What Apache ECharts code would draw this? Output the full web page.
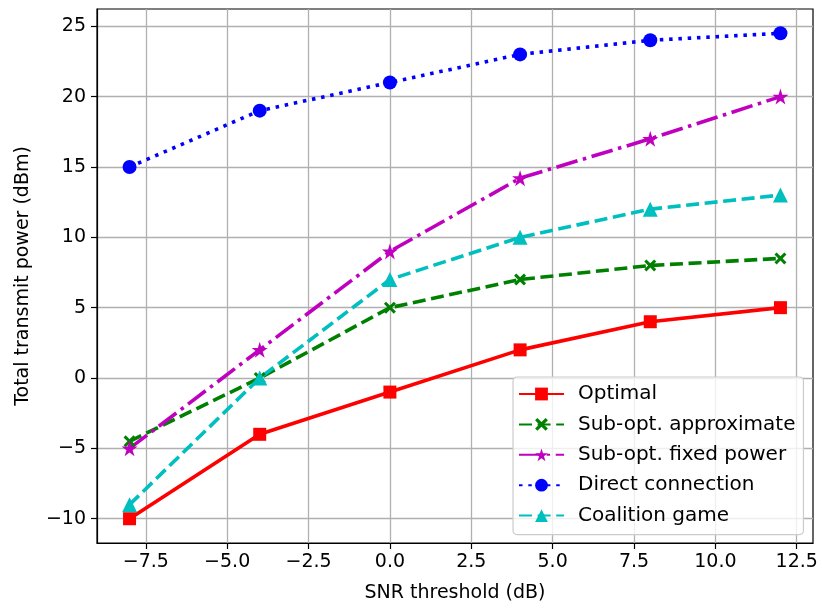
<!DOCTYPE html>
<html>
<head>
<meta charset="utf-8">
<script src="https://cdn.jsdelivr.net/npm/echarts@6/dist/echarts.min.js"></script>
<style>html,body{margin:0;padding:0;background:#fff}#c{width:822px;height:610px}</style>
</head>
<body>
<div id="c"></div>
<script>
const snr = [-8, -4, 0, 4, 8, 12];
const optimal = [-10, -4, -1, 2, 4, 5];
const subApprox = [-4.5, 0, 5, 7, 8, 8.5];
const subFixed = [-5, 2, 9, 14.2, 17, 20];
const direct = [15, 19, 21, 23, 24, 24.5];
const coalition = [-9, 0, 7, 10, 12, 13];
const xTicks = [-7.5, -5, -2.5, 0, 2.5, 5, 7.5, 10, 12.5];
const yTicks = [-10, -5, 0, 5, 10, 15, 20, 25];

const FONT = 'DejaVu Sans';
const STAR = 'path://M50,0 L61.2,34.5 L97.6,34.5 L68.2,55.9 L79.4,90.5 L50,69.1 L20.6,90.5 L31.8,55.9 L2.4,34.5 L38.8,34.5 Z';
const XMARK = 'path://M0,18 L18,0 L50,32 L82,0 L100,18 L68,50 L100,82 L82,100 L50,68 L18,100 L0,82 L32,50 Z';

function pairs(ys){ return snr.map((x,i)=>[x, ys[i]]); }
function fmtX(v){ const s = Math.abs(v).toFixed(1); return v < 0 ? '\u2212' + s : s; }
function fmtY(v){ return v < 0 ? '\u2212' + Math.abs(v) : String(v); }

const chart = echarts.init(document.getElementById('c'), null, {renderer:'canvas'});
const LW = 3.6;
function mk(name, ys, color, dash, symbol, size){
  return {
    name, type:'line', data: pairs(ys), symbol, symbolSize: size,
    lineStyle:{color, width: LW, type: dash, cap:'butt'},
    itemStyle:{color, borderWidth:0},
    emphasis:{disabled:true}
  };
}
chart.setOption({
  animation:false,
  backgroundColor:'#fff',
  textStyle:{fontFamily: FONT},
  grid:{left:97, right:9, top:9, bottom:67, show:true, borderColor:'#000', borderWidth:1.2, backgroundColor:'transparent'},
  legend:{
    orient:'vertical', left:513, top:377,
    padding:[7,8,9,5],
    itemWidth:45, itemHeight:16, itemGap:10.4,
    backgroundColor:'rgba(255,255,255,0.8)', borderColor:'#cccccc', borderWidth:1.2, borderRadius:4,
    textStyle:{fontFamily:FONT, fontSize:20, color:'#000', lineHeight:20, padding:[0,0,0,9]},
    data:['Optimal','Sub-opt. approximate','Sub-opt. fixed power','Direct connection','Coalition game']
  },
  xAxis:{
    type:'value', min:-9, max:13, minInterval:2.5, maxInterval:2.5,
    name:'SNR threshold (dB)', nameLocation:'middle', nameGap:41,
    nameTextStyle:{fontFamily:FONT, fontSize:19, color:'#000'},
    axisLine:{show:true, onZero:false, lineStyle:{color:'#000', width:1.2}},
    axisTick:{show:true, length:6, inside:false, lineStyle:{color:'#000', width:1.2}, customValues:xTicks},
    axisLabel:{fontFamily:FONT, fontSize:19, color:'#000', margin:10, formatter:fmtX, customValues:xTicks},
    splitLine:{show:true, lineStyle:{color:'#b0b0b0', width:1.3}}
  },
  yAxis:{
    type:'value', min:-11.725, max:26.225, minInterval:5, maxInterval:5,
    name:'Total transmit power (dBm)', nameLocation:'middle', nameGap:64,
    nameTextStyle:{fontFamily:FONT, fontSize:19, color:'#000'},
    axisLine:{show:true, onZero:false, lineStyle:{color:'#000', width:1.2}},
    axisTick:{show:true, length:6, inside:false, lineStyle:{color:'#000', width:1.2}, customValues:yTicks},
    axisLabel:{fontFamily:FONT, fontSize:19, color:'#000', margin:11, formatter:fmtY, customValues:yTicks},
    splitLine:{show:true, lineStyle:{color:'#b0b0b0', width:1.3}}
  },
  series:[
    mk('Optimal', optimal, '#ff0000', 'solid', 'rect', 13),
    mk('Sub-opt. approximate', subApprox, '#008000', [13,5.6], XMARK, 12),
    mk('Sub-opt. fixed power', subFixed, '#bf00bf', [22,5.6,3.5,5.6], STAR, 16),
    mk('Direct connection', direct, '#0000ff', [3.5,5.8], 'circle', 14),
    mk('Coalition game', coalition, '#00bfbf', [13,5.6], 'triangle', 15)
  ]
});
</script>
</body>
</html>
